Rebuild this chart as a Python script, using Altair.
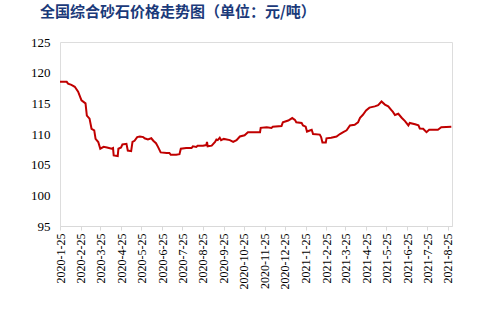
import altair as alt
import pandas as pd

dates = [
    "2020-01-25", "2020-02-04", "2020-02-06", "2020-02-11", "2020-02-16", "2020-02-21",
    "2020-02-26", "2020-03-03", "2020-03-05", "2020-03-09", "2020-03-12", "2020-03-16",
    "2020-03-18", "2020-03-22", "2020-03-25", "2020-03-30", "2020-04-04", "2020-04-11",
    "2020-04-13", "2020-04-14", "2020-04-20", "2020-04-21", "2020-04-25", "2020-04-27",
    "2020-05-03", "2020-05-05", "2020-05-10", "2020-05-12", "2020-05-15", "2020-05-19",
    "2020-05-23", "2020-05-28", "2020-05-30", "2020-06-04", "2020-06-09", "2020-06-12",
    "2020-06-16", "2020-06-19", "2020-06-23", "2020-07-02", "2020-07-06", "2020-07-08",
    "2020-07-16", "2020-07-21", "2020-07-23", "2020-07-31", "2020-08-08", "2020-08-10",
    "2020-08-15", "2020-08-17", "2020-08-25", "2020-08-30", "2020-08-31", "2020-09-01",
    "2020-09-07", "2020-09-12", "2020-09-14", "2020-09-16", "2020-09-19", "2020-09-21",
    "2020-09-25", "2020-10-04", "2020-10-09", "2020-10-14", "2020-10-19", "2020-10-26",
    "2020-10-31", "2020-11-10", "2020-11-18", "2020-11-19", "2020-11-28", "2020-12-05",
    "2020-12-07", "2020-12-20", "2020-12-22", "2020-12-30", "2021-01-05", "2021-01-09",
    "2021-01-11", "2021-01-19", "2021-01-21", "2021-01-25", "2021-01-27", "2021-02-03",
    "2021-02-05", "2021-02-15", "2021-02-17", "2021-02-19", "2021-02-24", "2021-02-25",
    "2021-03-04", "2021-03-12", "2021-03-17", "2021-03-22", "2021-03-27", "2021-04-01",
    "2021-04-08", "2021-04-13", "2021-04-16", "2021-04-20", "2021-04-25", "2021-04-30",
    "2021-05-08", "2021-05-13", "2021-05-18", "2021-05-23", "2021-05-28", "2021-06-02",
    "2021-06-04", "2021-06-07", "2021-06-12", "2021-06-17", "2021-06-22", "2021-06-27",
    "2021-06-29", "2021-07-07", "2021-07-12", "2021-07-14", "2021-07-19", "2021-07-24",
    "2021-07-28", "2021-08-10", "2021-08-15", "2021-08-30",
]

prices = [
    118.5, 118.5, 118.2, 118.0, 117.7, 116.9,
    115.5, 115.0, 113.0, 112.5, 110.85, 110.6,
    109.2, 108.7, 107.6, 107.9, 107.8, 107.6,
    107.7, 106.5, 106.4, 107.6, 107.8, 108.3,
    108.4, 107.3, 107.2, 108.7, 108.9, 109.5,
    109.6, 109.5, 109.3, 109.1, 109.3, 108.9,
    108.5, 107.9, 107.0, 106.9, 106.9, 106.6,
    106.6, 106.7, 107.6, 107.7, 107.7, 108.0,
    107.9, 108.1, 108.1, 108.2, 108.7, 108.0,
    108.1, 108.7, 109.1, 109.0, 109.4, 109.0,
    109.2, 109.0, 108.7, 109.0, 109.6, 109.8,
    110.3, 110.3, 110.3, 111.0, 111.1, 111.0,
    111.2, 111.3, 111.9, 112.2, 112.6, 112.3,
    111.9, 111.8, 111.4, 111.2, 110.4, 110.7,
    110.0, 109.9, 109.5, 108.6, 108.6, 109.3,
    109.4, 109.6, 110.0, 110.3, 110.6, 111.4,
    111.5, 111.9, 112.65, 113.1, 113.85, 114.3,
    114.5, 114.7, 115.3, 114.8, 114.5, 113.85,
    113.6, 113.1, 113.3, 112.65, 112.1, 111.4,
    111.8, 111.6, 111.4, 110.9, 110.85, 110.3,
    110.7, 110.7, 111.1, 111.2,
]

tick_months = [(2020, m) for m in range(1, 13)] + [(2021, m) for m in range(1, 9)]
y_ticks = [95, 100, 105, 110, 115, 120, 125]

title_text = "全国综合砂石价格走势图（单位：元/吨）"

df = pd.DataFrame({"date": dates, "price": prices})

tick_values = [alt.DateTime(year=y, month=m, date=25, utc=True) for y, m in tick_months]

serif = "Liberation Serif, Times New Roman, serif"

chart = alt.Chart(df).mark_line(color="#C00000", strokeWidth=2).encode(
    x=alt.X(
        "date:T",
        scale=alt.Scale(
            type="utc",
            domain=[alt.DateTime(year=2020, month=1, date=25, utc=True),
                    alt.DateTime(year=2021, month=8, date=31, utc=True)],
        ),
        axis=alt.Axis(
            title=None,
            values=tick_values,
            labelExpr="utcFormat(datum.value, '%Y') + '-' + (utcmonth(datum.value) + 1) + '-' + utcdate(datum.value)",
            labelAngle=270,
            labelAlign="right",
            labelBaseline="middle",
            labelFont=serif,
            labelFontSize=12,
            labelColor="#000000",
            labelPadding=3,
            labelOverlap=False,
            labelFlush=False,
            domainColor="#D9D9D9",
            tickColor="#D9D9D9",
            tickSize=4,
            grid=False,
        ),
    ),
    y=alt.Y(
        "price:Q",
        scale=alt.Scale(domain=[95, 125], nice=False, zero=False),
        axis=alt.Axis(
            title=None,
            values=y_ticks,
            labelFont=serif,
            labelFontSize=13,
            labelColor="#000000",
            labelPadding=10,
            domain=False,
            ticks=False,
            grid=False,
        ),
    ),
).properties(
    width=392,
    height=184,
    autosize=alt.AutoSizeParams(type="none"),
    padding={"left": 60, "top": 42, "right": 40, "bottom": 91},
    title=alt.TitleParams(
        text=title_text,
        anchor="start",
        frame="group",
        dx=-20,
        offset=16,
        font="Noto Sans CJK SC",
        fontSize=15,
        fontWeight="bold",
        color="#1B3A7A",
    ),
).configure_view(stroke=None).configure(background="white")

chart.save("out.html", embed_options={"renderer": "svg", "actions": False})
